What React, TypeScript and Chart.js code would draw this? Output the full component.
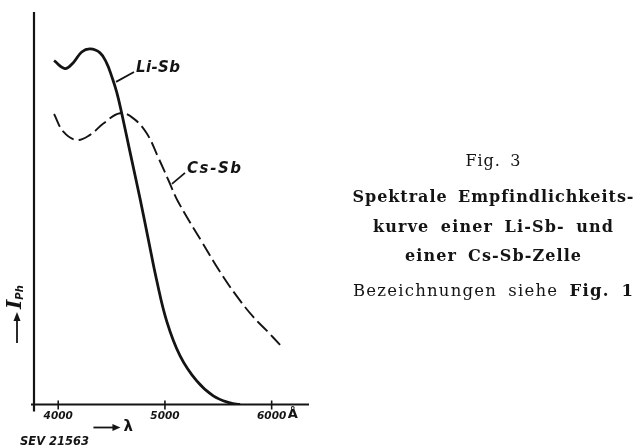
import React, { useEffect, useRef } from "react";
import { Chart, registerables } from "chart.js";

Chart.register(...registerables);

// Wavelength in Ångström
const lambdaLiSb = [3961, 4064, 4141, 4220, 4298, 4392, 4454, 4501, 4548, 4595, 4673, 4767, 4844, 4923, 5017, 5142, 5298, 5453, 5610, 5704];
const valuesLiSb = [87.6, 85.6, 87.1, 89.8, 90.6, 89.6, 87.0, 83.6, 79.6, 74.2, 64.3, 52.4, 42.1, 31.6, 21.2, 12.4, 6.0, 2.2, 0.4, 0];

const lambdaCsSb = [3961, 4048, 4173, 4298, 4423, 4579, 4704, 4829, 4938, 5032, 5125, 5345, 5516, 5673, 5828, 5954, 6079];
const valuesCsSb = [74.0, 69.5, 67.4, 68.7, 71.6, 74.2, 72.9, 69.1, 62.9, 57.2, 51.6, 41.5, 33.8, 27.6, 22.3, 18.8, 15.2];

const xTicks = [4000, 5000, 6000];
const xTickLabels = ["4000", "5000", "6000"];
const seriesNames = ["Li-Sb", "Cs-Sb"];

// label leader anchors in data units: [fromLambda, fromValue, toLambda, toValue]
const leaderLiSb = [4542, 82.2, 4710, 84.7];
const leaderCsSb = [5066, 56.2, 5188, 59.0];

const captionLines = [
  "Fig. 3",
  "Spektrale Empfindlichkeits-",
  "kurve einer Li-Sb- und",
  "einer Cs-Sb-Zelle",
];
const captionLast = ["Bezeichnungen siehe ", "Fig. 1"];
const figureCode = "SEV 21563";

const INK = "#141414";

type Seg = { text: string; font: string };

function drawSpaced(ctx: CanvasRenderingContext2D, segs: Seg[], cx: number, cy: number, targetW: number) {
  const chars: { ch: string; font: string; w: number }[] = [];
  for (const s of segs) {
    ctx.font = s.font;
    for (const ch of s.text) chars.push({ ch, font: s.font, w: ctx.measureText(ch).width });
  }
  const natural = chars.reduce((a, c) => a + c.w, 0);
  const wOf = (i: number) => (chars[i].ch === " " || chars[i + 1].ch === " " ? 3 : 1);
  let weights = 0;
  for (let i = 0; i < chars.length - 1; i++) weights += wOf(i);
  const unit = (targetW - natural) / Math.max(1, weights);
  let x = cx - targetW / 2;
  ctx.textBaseline = "middle";
  ctx.textAlign = "left";
  for (let i = 0; i < chars.length; i++) {
    const c = chars[i];
    ctx.font = c.font;
    ctx.fillText(c.ch, x, cy);
    x += c.w;
    if (i < chars.length - 1) x += unit * wOf(i);
  }
}

const decorPlugin = {
  id: "decor",
  beforeDraw(chart: any) {
    const ctx = chart.ctx as CanvasRenderingContext2D;
    ctx.save();
    ctx.fillStyle = "#ffffff";
    ctx.fillRect(0, 0, chart.width, chart.height);
    ctx.restore();
  },
  afterDatasetsDraw(chart: any) {
    const ctx = chart.ctx as CanvasRenderingContext2D;
    const { left, right, top, bottom } = chart.chartArea;
    const xs = chart.scales.x;
    const ys = chart.scales.y;
    ctx.save();
    ctx.strokeStyle = INK;
    ctx.fillStyle = INK;
    ctx.lineCap = "butt";

    // axes
    ctx.lineWidth = 2.2;
    ctx.beginPath();
    ctx.moveTo(left, top);
    ctx.lineTo(left, bottom + 7);
    ctx.moveTo(left - 3, bottom);
    ctx.lineTo(right, bottom);
    ctx.stroke();

    // ticks and tick labels
    ctx.lineWidth = 1.6;
    ctx.font = "italic bold 10.5px 'DejaVu Sans'";
    ctx.textAlign = "center";
    ctx.textBaseline = "middle";
    xTicks.forEach((t, i) => {
      const px = xs.getPixelForValue(t);
      ctx.beginPath();
      ctx.moveTo(px, bottom - 4);
      ctx.lineTo(px, bottom + 5);
      ctx.stroke();
      ctx.fillText(xTickLabels[i], px, bottom + 12);
    });
    const last = xs.getPixelForValue(xTicks[xTicks.length - 1]);
    ctx.font = "bold 13px 'DejaVu Sans'";
    ctx.textAlign = "left";
    ctx.fillText("Å", last + 16, bottom + 10);

    // x axis arrow + lambda
    const ay = bottom + 23;
    const ax0 = xs.getPixelForValue(4330);
    ctx.lineWidth = 1.8;
    ctx.beginPath();
    ctx.moveTo(ax0, ay);
    ctx.lineTo(ax0 + 21, ay);
    ctx.stroke();
    ctx.beginPath();
    ctx.moveTo(ax0 + 27, ay);
    ctx.lineTo(ax0 + 19, ay - 3.5);
    ctx.lineTo(ax0 + 19, ay + 3.5);
    ctx.closePath();
    ctx.fill();
    ctx.font = "bold 15px 'DejaVu Sans'";
    ctx.textAlign = "left";
    ctx.textBaseline = "middle";
    ctx.fillText("λ", ax0 + 30, ay);

    // figure code
    ctx.font = "italic bold 11.5px 'DejaVu Sans'";
    ctx.textAlign = "left";
    ctx.fillText(figureCode, 20, bottom + 38);

    // y axis label, rotated
    ctx.save();
    ctx.translate(17, 0);
    ctx.rotate(-Math.PI / 2);
    ctx.lineWidth = 1.8;
    ctx.beginPath();
    ctx.moveTo(-343, 0);
    ctx.lineTo(-320, 0);
    ctx.stroke();
    ctx.beginPath();
    ctx.moveTo(-312, 0);
    ctx.lineTo(-321, -3.5);
    ctx.lineTo(-321, 3.5);
    ctx.closePath();
    ctx.fill();
    ctx.textAlign = "left";
    ctx.textBaseline = "alphabetic";
    ctx.font = "italic bold 20px 'DejaVu Serif'";
    ctx.fillText("I", -309, 4);
    const iw = ctx.measureText("I").width;
    ctx.font = "italic bold 10px 'DejaVu Sans'";
    ctx.fillText("Ph", -309 + iw, 6);
    ctx.restore();

    // series labels with leader lines
    const drawLeader = (l: number[], text: string, spacing: number) => {
      const x1 = xs.getPixelForValue(l[0]);
      const y1 = ys.getPixelForValue(l[1]);
      const x2 = xs.getPixelForValue(l[2]);
      const y2 = ys.getPixelForValue(l[3]);
      ctx.lineWidth = 1.8;
      ctx.beginPath();
      ctx.moveTo(x1, y1);
      ctx.lineTo(x2, y2);
      ctx.stroke();
      ctx.font = "italic bold 15px 'DejaVu Sans'";
      ctx.textAlign = "left";
      ctx.textBaseline = "middle";
      let x = x2 + 2;
      for (const ch of text) {
        ctx.fillText(ch, x, y2 - 4);
        x += ctx.measureText(ch).width + spacing;
      }
    };
    drawLeader(leaderLiSb, seriesNames[0], 0.4);
    drawLeader(leaderCsSb, seriesNames[1], 1.6);

    // caption
    const cx = 493;
    drawSpaced(ctx, [{ text: captionLines[0], font: "16px 'DejaVu Serif'" }], cx, 162, 55);
    drawSpaced(ctx, [{ text: captionLines[1], font: "bold 16px 'DejaVu Serif'" }], cx, 198, 281);
    drawSpaced(ctx, [{ text: captionLines[2], font: "bold 16px 'DejaVu Serif'" }], cx, 228, 240);
    drawSpaced(ctx, [{ text: captionLines[3], font: "bold 16px 'DejaVu Serif'" }], cx, 257, 176);
    drawSpaced(
      ctx,
      [
        { text: captionLast[0], font: "16.5px 'DejaVu Serif'" },
        { text: captionLast[1], font: "bold 16.5px 'DejaVu Serif'" },
      ],
      cx,
      292,
      280
    );
    ctx.restore();
  },
};

export default function App() {
  const ref = useRef<HTMLCanvasElement>(null);
  useEffect(() => {
    if (!ref.current) return;
    const chart = new Chart(ref.current, {
      type: "line",
      data: {
        datasets: [
          {
            label: seriesNames[0],
            data: lambdaLiSb.map((x, i) => ({ x, y: valuesLiSb[i] })),
            borderColor: INK,
            borderWidth: 2.8,
            pointRadius: 0,
            tension: 0.4,
            fill: false,
          },
          {
            label: seriesNames[1],
            data: lambdaCsSb.map((x, i) => ({ x, y: valuesCsSb[i] })),
            borderColor: INK,
            borderWidth: 1.9,
            borderDash: [14, 5],
            pointRadius: 0,
            tension: 0.4,
            fill: false,
          },
        ],
      },
      options: {
        animation: false,
        responsive: false,
        devicePixelRatio: 1,
        layout: { padding: { left: 34, top: 12, right: 329, bottom: 43.5 } },
        plugins: { legend: { display: false }, tooltip: { enabled: false }, title: { display: false } },
        scales: {
          x: { type: "linear", display: false, min: 3773, max: 6350 },
          y: { type: "linear", display: false, min: 0, max: 100 },
        },
      },
      plugins: [decorPlugin],
    } as any);
    return () => chart.destroy();
  }, []);
  return (
    <div style={{ position: "absolute", left: 0, top: 0, width: 638, height: 448, background: "#fff" }}>
      <canvas ref={ref} width={638} height={448} style={{ display: "block", width: 638, height: 448 }} />
    </div>
  );
}
